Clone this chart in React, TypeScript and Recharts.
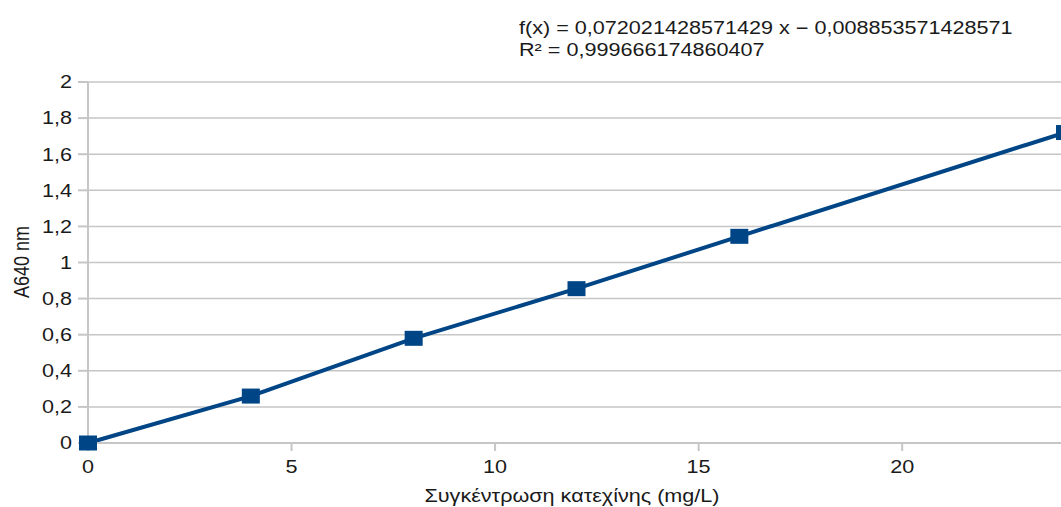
import { LineChart, Line, XAxis, YAxis, CartesianGrid } from 'recharts';

// calibration data (catechin)
const concentrations = [0, 4, 8, 12, 16, 24];
const absorbance = [0, 0.26, 0.58, 0.855, 1.145, 1.72];
const xTicks = [0, 5, 10, 15, 20];
const yTicks = [0, 0.2, 0.4, 0.6, 0.8, 1, 1.2, 1.4, 1.6, 1.8, 2];
const equationText = 'f(x) = 0,072021428571429 x − 0,008853571428571';
const rSquaredText = 'R² = 0,999666174860407';
const xTitle = 'Συγκέντρωση κατεχίνης (mg/L)';
const yTitle = 'A640 nm';

const chartData = concentrations.map((c, i) => ({ x: c, y: absorbance[i] }));

const FONT = '"Liberation Sans", Arial, sans-serif';
const TEXT = '#1a1a1a';
const GRID = '#c6c6c6';
const BLUE = '#004586';
const STRETCH = 1.2; // the source image is a little wider than tall

const fmt = (v: number) => String(+v.toFixed(2)).replace('.', ',');

function stretch(x: number, y: number) {
  return `translate(${x} ${y}) scale(${STRETCH} 1) translate(${-x} ${-y})`;
}

function YTick({ x, y, payload }: any) {
  return (
    <text
      x={x}
      y={y}
      textAnchor="end"
      dominantBaseline="central"
      fontFamily={FONT}
      fontSize={18}
      fill={TEXT}
      transform={stretch(x, y)}
    >
      {fmt(payload.value)}
    </text>
  );
}

function XTick({ x, y, payload }: any) {
  return (
    <text
      x={x}
      y={y + 12}
      textAnchor="middle"
      dominantBaseline="central"
      fontFamily={FONT}
      fontSize={18}
      fill={TEXT}
      transform={stretch(x, y + 12)}
    >
      {fmt(payload.value)}
    </text>
  );
}

function SquareDot({ cx, cy }: any) {
  if (cx == null || cy == null) return null;
  return <rect x={cx - 9} y={cy - 7.5} width={18} height={15} fill={BLUE} />;
}

function XAxisTitle() {
  const x = 564;
  const y = 494;
  return (
    <text x={x} y={y} textAnchor="middle" fontFamily={FONT} fontSize={18} fill={TEXT} transform={stretch(x, y)}>
      {xTitle}
    </text>
  );
}

function YAxisTitle() {
  return (
    <text
      x={0}
      y={0}
      textAnchor="middle"
      dominantBaseline="central"
      fontFamily={FONT}
      fontSize={18}
      fill={TEXT}
      transform={`translate(13.5 254) scale(${STRETCH} 1) rotate(-90)`}
    >
      {yTitle}
    </text>
  );
}

export default function App() {
  return (
    // fixed so the oversize chart never gives the page scrollbars
    <div
      style={{
        position: 'fixed',
        left: 8,
        top: 8,
        width: 1053,
        height: 499,
        overflow: 'hidden',
        background: '#fff',
      }}
    >
      <div
        style={{
          position: 'absolute',
          left: 511,
          top: 10,
          fontFamily: FONT,
          fontSize: 18,
          lineHeight: '21.5px',
          color: TEXT,
          whiteSpace: 'nowrap',
          transform: `scaleX(${STRETCH})`,
          transformOrigin: 'left top',
        }}
      >
        <div>{equationText}</div>
        <div>{rSquaredText}</div>
      </div>
      <LineChart width={1080} height={499} data={chartData} margin={{ top: 74, right: 23, left: 0, bottom: 0 }}>
        <CartesianGrid vertical={false} stroke={GRID} strokeWidth={1.5} />
        <XAxis
          dataKey="x"
          type="number"
          domain={[0, 24]}
          ticks={xTicks}
          height={64}
          stroke={GRID}
          strokeWidth={2}
          tickSize={8}
          tickMargin={4}
          tick={<XTick />}
          label={{ content: () => <XAxisTitle /> }}
        />
        <YAxis
          type="number"
          domain={[0, 2]}
          ticks={yTicks}
          width={80}
          stroke={GRID}
          strokeWidth={2}
          tickSize={10}
          tickMargin={6}
          tick={<YTick />}
          label={{ content: () => <YAxisTitle /> }}
        />
        <Line
          type="linear"
          dataKey="y"
          stroke={BLUE}
          strokeWidth={4}
          dot={<SquareDot />}
          activeDot={false}
          isAnimationActive={false}
        />
      </LineChart>
    </div>
  );
}
